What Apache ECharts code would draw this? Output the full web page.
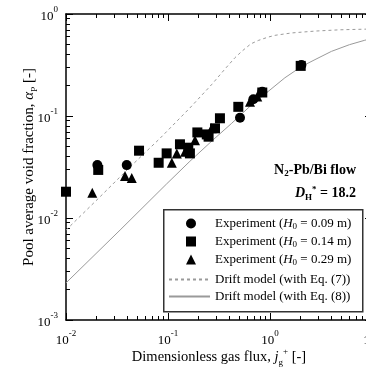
<!DOCTYPE html>
<html>
<head>
<meta charset="utf-8">
<script src="https://cdn.jsdelivr.net/npm/echarts@6/dist/echarts.min.js"></script>
<style>
  html, body { margin: 0; padding: 0; background: #fff; }
  #chart { width: 366px; height: 368px; }
</style>
</head>
<body>
<div id="chart"></div>
<script>
// values (log-log axes)
const xRange = [0.01, 10];
const yRange = [0.001, 1];

const expH009 = [[0.0203, 0.0331], [0.0394, 0.033], [0.508, 0.0962], [0.687, 0.146], [0.84, 0.173], [2.03, 0.316]];
const expH014 = [
  [0.01, 0.0181], [0.0207, 0.0296], [0.052, 0.0457], [0.081, 0.0348], [0.097, 0.043],
  [0.131, 0.0528], [0.158, 0.0489], [0.164, 0.043], [0.194, 0.069], [0.24, 0.066],
  [0.25, 0.0627], [0.289, 0.0757], [0.323, 0.095], [0.489, 0.123], [0.84, 0.17], [2.0, 0.31]
];
const expH029 = [
  [0.0181, 0.0177], [0.0379, 0.0258], [0.0441, 0.0247], [0.109, 0.0348], [0.122, 0.043],
  [0.147, 0.0447], [0.184, 0.058], [0.268, 0.0757], [0.637, 0.138], [0.75, 0.155]
];
const driftEq7 = [
  [0.01, 0.0076], [0.0215, 0.0161], [0.0424, 0.0316], [0.0835, 0.0604], [0.164, 0.12],
  [0.27, 0.205], [0.362, 0.289], [0.45, 0.37], [0.528, 0.43], [0.65, 0.51], [0.767, 0.55],
  [0.95, 0.592], [1.12, 0.618], [1.63, 0.652], [2.76, 0.68], [4.86, 0.70], [10, 0.713]
];
const driftEq8 = [
  [0.01, 0.00231], [0.0339, 0.00762], [0.097, 0.0216], [0.164, 0.036], [0.28, 0.059],
  [0.421, 0.0848], [0.65, 0.127], [1.0, 0.18], [1.4, 0.237], [2.03, 0.305], [2.76, 0.357],
  [4.0, 0.43], [6.0, 0.50], [8.5, 0.553], [10, 0.575]
];

const legendNames = [
  "Experiment (H0 = 0.09 m)",
  "Experiment (H0 = 0.14 m)",
  "Experiment (H0 = 0.29 m)",
  "Drift model (with Eq. (7))",
  "Drift model (with Eq. (8))"
];

function minorTicks(lo, hi) {
  const out = [];
  for (let d = lo; d < hi; d *= 10) {
    for (let k = 2; k <= 9; k++) out.push(+(k * d).toPrecision(3));
  }
  return out;
}

const serif = "Liberation Serif";
const black = "#000";
const grey = "#9a9a9a";

function powLabel(v) {
  const e = Math.round(Math.log10(v));
  return "{b|10}{s|" + e + "}";
}
const powRich = {
  b: { fontFamily: serif, fontSize: 13, color: black, lineHeight: 18, verticalAlign: "bottom" },
  s: { fontFamily: serif, fontSize: 9, color: black, lineHeight: 18, verticalAlign: "top" }
};

function frameAxis(range, position, major, extra) {
  return Object.assign({
    type: "log",
    logBase: 10,
    min: range[0],
    max: range[1],
    position,
    axisLine: { show: major, lineStyle: { color: black, width: 1.5 } },
    axisTick: { show: true, inside: true, length: major ? 7 : 4, lineStyle: { color: black, width: 1 } },
    axisLabel: { show: false },
    splitLine: { show: false },
    minorTick: { show: false }
  }, extra || {});
}

function minorAxis(range, position, values) {
  return frameAxis(range, position, false, {
    axisTick: { show: true, inside: true, length: 4, customValues: values, lineStyle: { color: black, width: 1 } }
  });
}

const xMinor = minorTicks(0.01, 10);
const yMinor = minorTicks(0.001, 1);

function nameRich(size) {
  return {
    n: { fontFamily: serif, fontSize: size, color: black, lineHeight: 20, verticalAlign: "middle" },
    i: { fontFamily: serif, fontSize: size, fontStyle: "italic", color: black, lineHeight: 20, verticalAlign: "middle" },
    sub: { fontFamily: serif, fontSize: 9, color: black, lineHeight: 20, verticalAlign: "bottom" },
    sup: { fontFamily: serif, fontSize: 9, color: black, lineHeight: 20, verticalAlign: "top" }
  };
}

const legendRich = {
  t: { fontFamily: serif, fontSize: 13, color: black, lineHeight: 15 },
  tp: { fontFamily: serif, fontSize: 13, color: black, lineHeight: 15, padding: [0, 0, 0, 14] },
  i: { fontFamily: serif, fontSize: 13, fontStyle: "italic", color: black, lineHeight: 15 },
  sub: { fontFamily: serif, fontSize: 9, color: black, lineHeight: 15, verticalAlign: "bottom" }
};

const chart = echarts.init(document.getElementById("chart"), null, { renderer: "canvas" });

chart.setOption({
  animation: false,
  backgroundColor: "#fff",
  grid: { left: 66, top: 14, width: 306, height: 306, containLabel: false, outerBoundsMode: "none" },
  xAxis: [
    frameAxis(xRange, "bottom", true, {
      axisLabel: { show: true, margin: 9, formatter: powLabel, rich: powRich },
      name: "{n|Dimensionless gas flux, }{i|j}{sub|g}{sup|+}{n| [-]}",
      nameLocation: "middle",
      nameGap: 27,
      nameMoveOverlap: false,
      nameTextStyle: { rich: nameRich(14.5) }
    }),
    minorAxis(xRange, "bottom", xMinor),
    frameAxis(xRange, "top", true),
    minorAxis(xRange, "top", xMinor)
  ],
  yAxis: [
    frameAxis(yRange, "left", true, {
      axisLabel: { show: true, margin: 8, formatter: powLabel, rich: powRich },
      name: "{n|Pool average void fraction, }{i|α}{sub|P}{n| [-]}",
      nameLocation: "middle",
      nameGap: 27,
      nameRotate: 90,
      nameMoveOverlap: false,
      nameTextStyle: { rich: nameRich(15) }
    }),
    minorAxis(yRange, "left", yMinor),
    frameAxis(yRange, "right", true),
    minorAxis(yRange, "right", yMinor)
  ],
  legend: [
    {
      orient: "vertical",
      left: 186,
      top: 217,
      padding: 0,
      itemWidth: 10,
      itemHeight: 10,
      itemGap: 4,
      data: [
        { name: legendNames[0], icon: "circle" },
        { name: legendNames[1], icon: "rect" },
        { name: legendNames[2], icon: "triangle" }
      ],
      formatter: name => {
        const m = name.match(/^Experiment \(H0 = (.*)\)$/);
        return "{tp|Experiment (}{i|H}{sub|0}{t| = " + m[1] + ")}";
      },
      textStyle: { rich: legendRich },
      z: 20
    },
    {
      orient: "vertical",
      left: 168,
      top: 273,
      padding: 0,
      itemWidth: 41,
      itemHeight: 10,
      itemGap: 4,
      data: [legendNames[3], legendNames[4]],
      itemStyle: { color: "rgba(0,0,0,0)", borderWidth: 0, opacity: 0 },
      formatter: name => "{t|" + name + "}",
      textStyle: { rich: legendRich },
      z: 20
    }
  ],
  graphic: [
    {
      type: "rect",
      left: 163,
      top: 209,
      shape: { width: 199, height: 102 },
      style: { fill: "#fff", stroke: "#333", lineWidth: 1.5 },
      z: 10
    },
    {
      type: "text",
      right: 10,
      top: 163,
      style: {
        text: "{b|N}{bs|2}{b|-Pb/Bi flow}",
        rich: {
          b: { fontFamily: serif, fontSize: 14, fontWeight: "bold", fill: black, lineHeight: 16, verticalAlign: "middle" },
          bs: { fontFamily: serif, fontSize: 9, fontWeight: "bold", fill: black, lineHeight: 16, verticalAlign: "bottom" }
        }
      },
      z: 100
    },
    {
      type: "text",
      right: 10,
      top: 185,
      style: {
        text: "{bi|D}{bs|H}{sp|*}{b| = 18.2}",
        rich: {
          b: { fontFamily: serif, fontSize: 14, fontWeight: "bold", fill: black, lineHeight: 17, verticalAlign: "middle" },
          bi: { fontFamily: serif, fontSize: 14, fontWeight: "bold", fontStyle: "italic", fill: black, lineHeight: 17, verticalAlign: "middle" },
          bs: { fontFamily: serif, fontSize: 9, fontWeight: "bold", fill: black, lineHeight: 17, verticalAlign: "bottom" },
          sp: { fontFamily: serif, fontSize: 9, fontWeight: "bold", fill: black, lineHeight: 17, verticalAlign: "top" }
        }
      },
      z: 100
    }
  ],
  series: [
    {
      name: legendNames[3],
      type: "line",
      data: driftEq7,
      symbol: "none",
      lineStyle: { color: grey, width: 1, type: [3, 3] },
      itemStyle: { color: grey },
      z: 1
    },
    {
      name: legendNames[4],
      type: "line",
      data: driftEq8,
      symbol: "none",
      lineStyle: { color: grey, width: 1 },
      itemStyle: { color: grey },
      z: 1
    },
    {
      name: legendNames[0],
      type: "scatter",
      data: expH009,
      symbol: "circle",
      symbolSize: 10,
      itemStyle: { color: black, opacity: 1 },
      z: 3
    },
    {
      name: legendNames[1],
      type: "scatter",
      data: expH014,
      symbol: "rect",
      symbolSize: 10,
      itemStyle: { color: black, opacity: 1 },
      z: 3
    },
    {
      name: legendNames[2],
      type: "scatter",
      data: expH029,
      symbol: "triangle",
      symbolSize: 10,
      itemStyle: { color: black, opacity: 1 },
      z: 3
    }
  ]
});
</script>
</body>
</html>
